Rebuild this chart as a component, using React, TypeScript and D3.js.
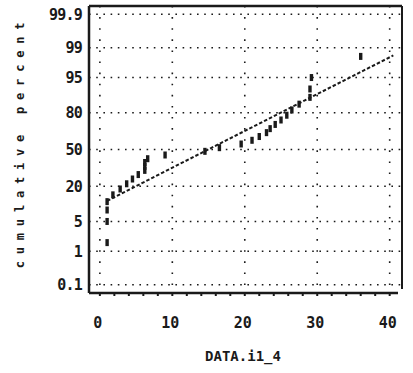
import React from "react";
import * as d3 from "d3";

// Sorted observations of DATA.i1_4
const values: number[] = [
  1.0, 1.0, 1.0, 1.0, 1.8, 2.8, 3.7, 4.5, 5.3, 6.2,
  6.2, 6.2, 6.6, 9.0, 14.5, 16.5, 19.5, 21.0, 22.0, 23.0,
  23.5, 24.2, 25.0, 25.8, 26.5, 27.5, 29.0, 29.0, 29.2, 36.0,
];

const percentTicks: number[] = [0.1, 1, 5, 20, 50, 80, 95, 99, 99.9];
const percentLabels: string[] = ["0.1", "1", "5", "20", "50", "80", "95", "99", "99.9"];
const xTicks: number[] = [0, 10, 20, 30, 40];
const xMinorTicks: number[] = d3.range(0, 41, 2);
const fitRange: number[] = [1, 40.5];

const xLabel = "DATA.i1_4";
const yLabel = "cumulative percent";

// Inverse standard normal CDF (Acklam's rational approximation)
function probit(p: number): number {
  const a = [-3.969683028665376e1, 2.209460984245205e2, -2.759285104469687e2, 1.38357751867269e2, -3.066479806614716e1, 2.506628277459239];
  const b = [-5.447609879822406e1, 1.615858368580409e2, -1.556989798598866e2, 6.680131188771972e1, -1.328068155288572e1];
  const c = [-7.784894002430293e-3, -3.223964580411365e-1, -2.400758277161838, -2.549732539343734, 4.374664141464968, 2.938163982698783];
  const d = [7.784695709041462e-3, 3.224671290700398e-1, 2.445134137142996, 3.754408661907416];
  const pl = 0.02425;
  if (p < pl) {
    const q = Math.sqrt(-2 * Math.log(p));
    return (((((c[0] * q + c[1]) * q + c[2]) * q + c[3]) * q + c[4]) * q + c[5]) / ((((d[0] * q + d[1]) * q + d[2]) * q + d[3]) * q + 1);
  }
  if (p > 1 - pl) {
    const q = Math.sqrt(-2 * Math.log(1 - p));
    return -(((((c[0] * q + c[1]) * q + c[2]) * q + c[3]) * q + c[4]) * q + c[5]) / ((((d[0] * q + d[1]) * q + d[2]) * q + d[3]) * q + 1);
  }
  const q = p - 0.5;
  const r = q * q;
  return ((((((a[0] * r + a[1]) * r + a[2]) * r + a[3]) * r + a[4]) * r + a[5]) * q) / (((((b[0] * r + b[1]) * r + b[2]) * r + b[3]) * r + b[4]) * r + 1);
}

const W = 413;
const H = 373;
const left = 89;
const right = 402;
const top = 6;
const bottom = 293;

const x = d3.scaleLinear().domain([-1.5, 41.7]).range([left, right]);
const y = d3.scaleLinear().domain([-3.28, 3.28]).range([bottom, top]);

const font = "'DejaVu Sans Mono', 'Liberation Mono', monospace";
const ink = "#1a1a1a";

export default function App() {
  const n = values.length;
  const pts = values.map((v, i) => ({ v, z: probit((i + 0.5) / n) }));

  // least-squares line of normal score on value
  const mv = d3.mean(pts, (d) => d.v) as number;
  const mz = d3.mean(pts, (d) => d.z) as number;
  const sxy = d3.sum(pts, (d) => (d.v - mv) * (d.z - mz));
  const sxx = d3.sum(pts, (d) => (d.v - mv) ** 2);
  const slope = sxy / sxx;
  const fit = d3
    .line<number>()
    .x((v) => x(v))
    .y((v) => y(mz + slope * (v - mv)));

  return (
    <svg
      width={W}
      height={H}
      style={{ position: "absolute", left: 0, top: 0, background: "#fff" }}
    >
      <rect x={0} y={0} width={W} height={H} fill="#fff" />
      {/* horizontal grid */}
      {percentTicks.map((p) => (
        <line
          key={"h" + p}
          x1={left}
          x2={right}
          y1={y(probit(p / 100))}
          y2={y(probit(p / 100))}
          stroke={ink}
          strokeWidth={1.6}
          strokeDasharray="1.6 5.6"
        />
      ))}
      {/* vertical grid */}
      {xTicks.map((t) => (
        <line
          key={"v" + t}
          x1={x(t)}
          x2={x(t)}
          y1={top}
          y2={bottom}
          stroke={ink}
          strokeWidth={1.6}
          strokeDasharray="1.6 9.5"
        />
      ))}
      {/* frame */}
      <line x1={left} x2={right} y1={top} y2={top} stroke={ink} strokeWidth={2.5} />
      <line x1={right} x2={right} y1={top} y2={bottom - 4} stroke={ink} strokeWidth={2} />
      <line x1={left} x2={left} y1={top} y2={bottom} stroke={ink} strokeWidth={2.5} />
      <line x1={left} x2={right - 4} y1={bottom} y2={bottom} stroke={ink} strokeWidth={2.5} />
      {xMinorTicks.map((t) => (
        <line key={"m" + t} x1={x(t)} x2={x(t)} y1={bottom} y2={bottom + 3} stroke={ink} strokeWidth={2} />
      ))}
      {/* fitted normal line */}
      <path
        d={fit(fitRange) as string}
        fill="none"
        stroke={ink}
        strokeWidth={2}
        strokeDasharray="3.5 2"
      />
      {/* observations */}
      {pts.map((d, i) => (
        <rect
          key={"p" + i}
          x={x(d.v) - 1.7}
          y={y(d.z) - 3.5}
          width={3.4}
          height={7}
          fill={ink}
        />
      ))}
      {/* y tick labels */}
      {percentTicks.map((p, i) => (
        <text
          key={"yl" + p}
          x={82}
          y={y(probit(p / 100))}
          dy="0.36em"
          textAnchor="end"
          fontFamily={font}
          fontSize={15}
          fontWeight="bold"
          fill={ink}
          letterSpacing={-0.8}
        >
          {percentLabels[i]}
        </text>
      ))}
      {/* x tick labels */}
      {xTicks.map((t) => (
        <text
          key={"xl" + t}
          x={x(t) - 2}
          y={328}
          textAnchor="middle"
          fontFamily={font}
          fontSize={15}
          fontWeight="bold"
          fill={ink}
        >
          {t}
        </text>
      ))}
      <text
        x={243}
        y={361}
        textAnchor="middle"
        fontFamily={font}
        fontSize={14}
        fontWeight="bold"
        fill={ink}
      >
        {xLabel}
      </text>
      <text
        transform={`translate(24, ${142}) rotate(-90)`}
        textAnchor="middle"
        fontFamily={font}
        fontSize={12}
        fontWeight="bold"
        letterSpacing={6.8}
        fill={ink}
      >
        {yLabel}
      </text>
    </svg>
  );
}
